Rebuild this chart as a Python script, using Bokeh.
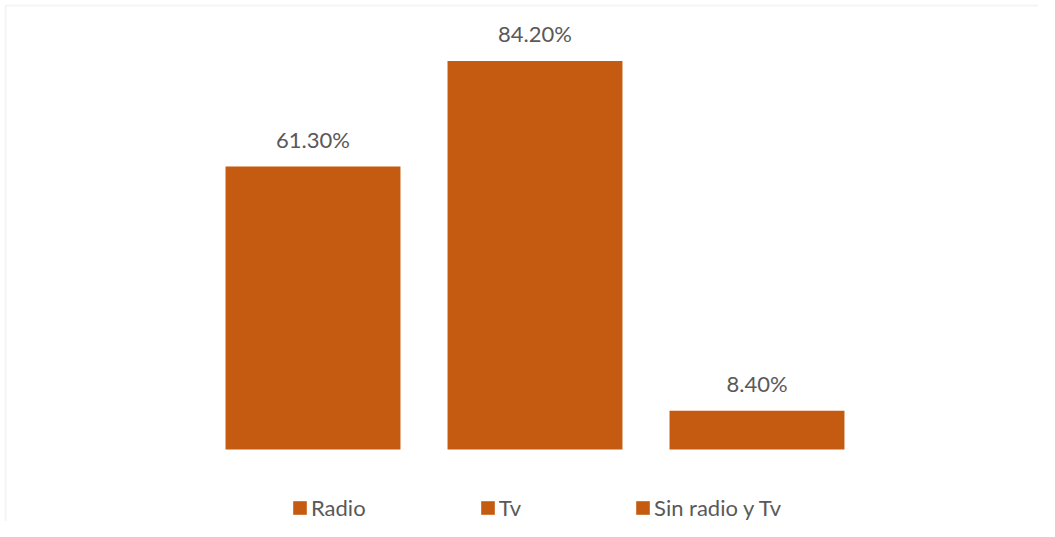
from bokeh.plotting import figure
from bokeh.models import ColumnDataSource, Range1d, BoxAnnotation
from bokeh.core.properties import value
from bokeh.embed import file_html
from bokeh.resources import INLINE

categories = ["Radio", "Tv", "Sin radio y Tv"]
values = [61.3, 84.2, 8.4]
labels = ["61.30%", "84.20%", "8.40%"]

BAR_COLOR = "#C55A11"
TEXT_COLOR = "#595959"
FONT = "Lato"

W, H = 1038, 521
PX_PER_UNIT_X = 222.0
PX_PER_PCT = 4.615
src = ColumnDataSource(dict(x=list(range(len(categories))), top=values,
                            cat=categories, lab=labels))

x0 = -312.5 / PX_PER_UNIT_X
p = figure(width=W, height=H, output_backend="svg", toolbar_location=None,
           x_range=Range1d(x0, x0 + W / PX_PER_UNIT_X),
           y_range=Range1d(-(H - 449) / PX_PER_PCT, 449 / PX_PER_PCT),
           x_axis_location=None, y_axis_location=None,
           min_border=0, outline_line_color=None,
           background_fill_color="white", border_fill_color="white")
p.xgrid.visible = False
p.ygrid.visible = False

p.vbar(x="x", top="top", bottom=0, width=0.788, source=src,
       fill_color=BAR_COLOR, line_color=None, legend_field="cat")

p.text(x="x", y="top", text="lab", source=src, text_align="center",
       text_baseline="alphabetic", y_offset=-27,
       text_font=value(FONT), text_font_size="22px", text_color=TEXT_COLOR)

p.add_layout(BoxAnnotation(left=5, top=5, right=W + 20, bottom=H + 20,
                           left_units="canvas", right_units="canvas",
                           top_units="canvas", bottom_units="canvas",
                           fill_alpha=0, line_color="#D9D9D9", line_width=2))

leg = p.legend[0]
leg.orientation = "horizontal"
leg.location = (291, 0)
leg.padding = 0
leg.margin = 0
leg.spacing = 113
leg.glyph_width = 17
leg.glyph_height = 17
leg.label_standoff = 3
leg.label_text_font = FONT
leg.label_text_font_size = "22px"
leg.label_text_color = TEXT_COLOR
leg.border_line_color = None
leg.background_fill_alpha = 0

open("out.html", "w").write(file_html(p, INLINE))
